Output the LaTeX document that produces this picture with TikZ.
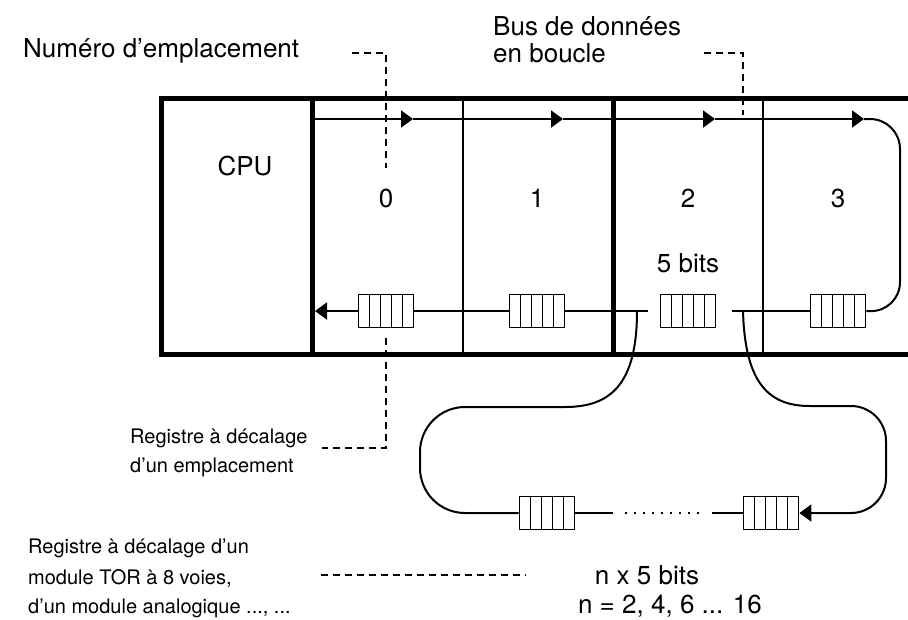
\documentclass[tikz,border=0pt]{standalone}
\usepackage{fontspec}
\setmainfont{TeX Gyre Heros}
\usetikzlibrary{arrows.meta,calc}

\tikzset{
  rackline/.style={line width=5pt},
  thinline/.style={line width=2pt},
  wire/.style={line width=2pt},
  leader/.style={line width=2pt,dash pattern=on 7pt off 5pt},
  dotline/.style={line width=2pt,dash pattern=on 2pt off 7pt},
  bustip/.style={-{Triangle[length=12pt,width=17pt]}},
  bigtext/.style={font=\fontsize{26}{28}\selectfont,inner sep=0pt},
  smalltext/.style={font=\fontsize{20}{24}\selectfont,inner sep=0pt},
  reg/.style={draw,line width=1.8pt,minimum width=55pt,minimum height=33pt,inner sep=0pt,
    path picture={\foreach \k in {1,...,4}
      \draw[line width=1.5pt] ([xshift=\k*11pt]path picture bounding box.south west)
        -- ([xshift=\k*11pt]path picture bounding box.north west);}}
}

\begin{document}
\begin{tikzpicture}[x=1pt,y=-1pt]
	\useasboundingbox (0,0) rectangle (908,619);
	
	% rack frame
	\draw[rackline] (915,98) -- (161,98) -- (161,354) -- (915,354);
	
	% slot dividers
	\draw[rackline] (312,98) -- (312,354);
	\draw[thinline] (463,98) -- (463,354);
	\draw[rackline] (613,98) -- (613,354);
	\draw[thinline] (763,98) -- (763,354);
	
	% slot labels
	\node[bigtext,anchor=base] (cpu) at (245,175) {CPU};
	\foreach \n/\x in {0/386,1/537,2/688,3/838}
		\node[bigtext,anchor=base] (s\n) at (\x,207) {\n};
	\node[bigtext,anchor=base] (bits) at (688,272) {5 bits};
	
	% shift registers
	\node[reg] (r0) at (386,311) {};
	\node[reg] (r1) at (537,311) {};
	\node[reg] (r2) at (688,311) {};
	\node[reg] (r3) at (838,311) {};
	\node[reg] (r4) at (547,513) {};
	\node[reg] (r5) at (771,513) {};
	
	% data bus, outgoing
	\coordinate (b0) at (314,119);
	\coordinate (a0) at (413,119);
	\coordinate (a1) at (563,119);
	\coordinate (a2) at (715,119);
	\coordinate (a3) at (864,119);
	\draw[wire,bustip] (b0) -- (a0);
	\draw[wire,bustip] (a0) -- (a1);
	\draw[wire,bustip] (a1) -- (a2);
	\draw[wire,bustip] (a2) -- (a3);
	\draw[wire,rounded corners=30pt] (a3) -- (900,119) -- (900,312) -- (r3.east);
	
	% data bus, return
	\coordinate (b1) at (315,311);
	\coordinate (g1) at (648,311);
	\coordinate (g2) at (732,311);
	\draw[wire] (r3.west) -- (g2);
	\draw[wire] (g1) -- (r1.east);
	\draw[wire] (r1.west) -- (r0.east);
	\draw[wire,bustip] (r0.west) -- (b1);
	
	% loop through the module
	\coordinate (k1) at (637,311);
	\coordinate (k2) at (743,311);
	\draw[wire] (k1) .. controls (637,385) and (610,407) .. (565,407)
		[rounded corners=45pt] -- (420,407) -- (420,513) -- (r4.west);
	\draw[wire,bustip] (k2) .. controls (745,385) and (770,406) .. (810,406)
		[rounded corners=35pt] -- (886,406) -- (886,513) -- (r5.east);
	\coordinate (d1) at (613,513);
	\coordinate (d2) at (625,513);
	\coordinate (d3) at (704,513);
	\coordinate (d4) at (712,513);
	\draw[wire] (r4.east) -- (d1);
	\draw[dotline] (d2) -- (d3);
	\draw[wire] (d4) -- (r5.west);
	
	% leaders
	\node[bigtext,anchor=base west] (numero) at (23,57) {Numéro d'emplacement};
	\coordinate (n1) at (352,53);
	\coordinate (n2) at (386,53);
	\coordinate (n3) at (386,168);
	\draw[leader] (n1) -- (n2) -- (n3);
	
	\node[bigtext,anchor=base west] (bus1) at (493,35) {Bus de données};
	\node[bigtext,anchor=base west] (bus2) at (493,62) {en boucle};
	\coordinate (m1) at (704,53);
	\coordinate (m2) at (743,53);
	\coordinate (m3) at (743,115);
	\draw[leader] (m1) -- (m2) -- (m3);
	
	\node[smalltext,anchor=base west] (reg1) at (130,443) {Registre à décalage};
	\node[smalltext,anchor=base west] (reg2) at (130,472) {d'un emplacement};
	\coordinate (p1) at (386,338);
	\coordinate (p2) at (386,448);
	\coordinate (p3) at (322,448);
	\draw[leader] (p1) -- (p2) -- (p3);
	
	% module register note
	\node[smalltext,anchor=base west] (mod1) at (28,553) {Registre à décalage d'un};
	\node[smalltext,anchor=base west] (mod2) at (28,584) {module TOR à 8 voies,};
	\node[smalltext,anchor=base west] (mod3) at (28,613) {d'un module analogique ..., ...};
	\coordinate (q1) at (321,575);
	\coordinate (q2) at (526,575);
	\draw[leader] (q1) -- (q2);
	\node[bigtext,anchor=base] (nbits) at (647,584) {n x 5 bits};
	\node[bigtext,anchor=base] (nval) at (670,613) {n = 2, 4, 6 ... 16};
\end{tikzpicture}
\end{document}
